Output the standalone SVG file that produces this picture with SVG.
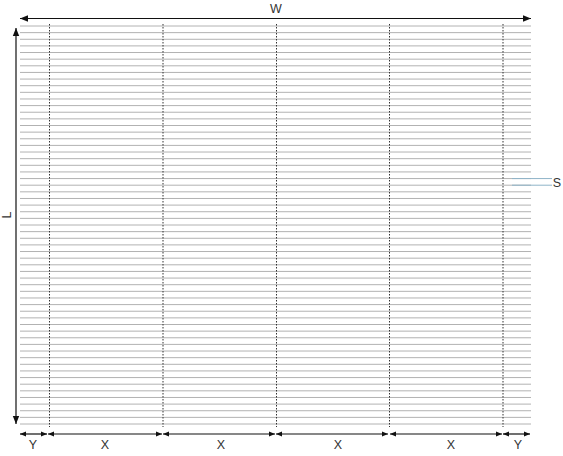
<svg xmlns="http://www.w3.org/2000/svg" width="563" height="456" viewBox="0 0 563 456">
<defs>
<marker id="ah" viewBox="0 0 10 10" refX="10" refY="5" markerWidth="8" markerHeight="8" markerUnits="userSpaceOnUse" orient="auto-start-reverse"><path d="M0,1 L10,5 L0,9 Z" fill="#111"/></marker>
<marker id="as" viewBox="0 0 10 10" refX="10" refY="5" markerWidth="6" markerHeight="6" markerUnits="userSpaceOnUse" orient="auto-start-reverse"><path d="M0,1 L10,5 L0,9 Z" fill="#111"/></marker>
</defs>
<style>
.g{stroke:#b2b2b2;stroke-width:1;fill:none}
.v{stroke:#333;stroke-width:1;stroke-dasharray:1.5,1.5;fill:none}
.d{stroke:#111;stroke-width:1.2;fill:none;marker-start:url(#ah);marker-end:url(#ah)}
.b{stroke:#111;stroke-width:1.2;fill:none;marker-start:url(#as);marker-end:url(#as)}
.s{stroke:#8fb4c8;stroke-width:1;fill:none}
text{font-family:"Liberation Sans",Arial,sans-serif;font-size:12.5px;fill:#333;text-anchor:middle}
</style>
<g id="grid">
<path class="g" d="M20,26H531M20,32.63H531M20,39.27H531M20,45.9H531M20,52.53H531M20,59.17H531M20,65.8H531M20,72.43H531M20,79.07H531M20,85.7H531M20,92.33H531M20,98.97H531M20,105.6H531M20,112.23H531M20,118.87H531M20,125.5H531M20,132.13H531M20,138.77H531M20,145.4H531M20,152.03H531M20,158.67H531M20,165.3H531M20,171.93H531M20,178.57H531M20,185.2H531M20,191.83H531M20,198.47H531M20,205.1H531M20,211.73H531M20,218.37H531M20,225H531M20,231.63H531M20,238.27H531M20,244.9H531M20,251.53H531M20,258.17H531M20,264.8H531M20,271.43H531M20,278.07H531M20,284.7H531M20,291.33H531M20,297.97H531M20,304.6H531M20,311.23H531M20,317.87H531M20,324.5H531M20,331.13H531M20,337.77H531M20,344.4H531M20,351.03H531M20,357.67H531M20,364.3H531M20,370.93H531M20,377.57H531M20,384.2H531M20,390.83H531M20,397.47H531M20,404.1H531M20,410.73H531M20,417.37H531M20,424H531"/>
<path class="v" d="M49.5,24V427M163,24V427M276.5,24V427M389.5,24V427M503,24V427"/>
</g>
<g id="connectors">
<line class="d" x1="20" y1="18.5" x2="531" y2="18.5"/>
<line class="d" x1="16" y1="28" x2="16" y2="424"/>
<line class="b" x1="20" y1="434" x2="47" y2="434"/>
<line class="b" x1="48" y1="434" x2="162" y2="434"/>
<line class="b" x1="163" y1="434" x2="275" y2="434"/>
<line class="b" x1="276" y1="434" x2="388" y2="434"/>
<line class="b" x1="390" y1="434" x2="502" y2="434"/>
<line class="b" x1="503" y1="434" x2="530" y2="434"/>
<path class="s" d="M512,178.57H552M512,185.2H552"/>
</g>
<g id="labels">
<text x="276" y="13">W</text>
<text transform="translate(11,215) rotate(-90)">L</text>
<text x="557" y="187">S</text>
<text x="33" y="449">Y</text>
<text x="105" y="449">X</text>
<text x="221" y="449">X</text>
<text x="338" y="449">X</text>
<text x="451" y="449">X</text>
<text x="518" y="449">Y</text>
</g>
</svg>
